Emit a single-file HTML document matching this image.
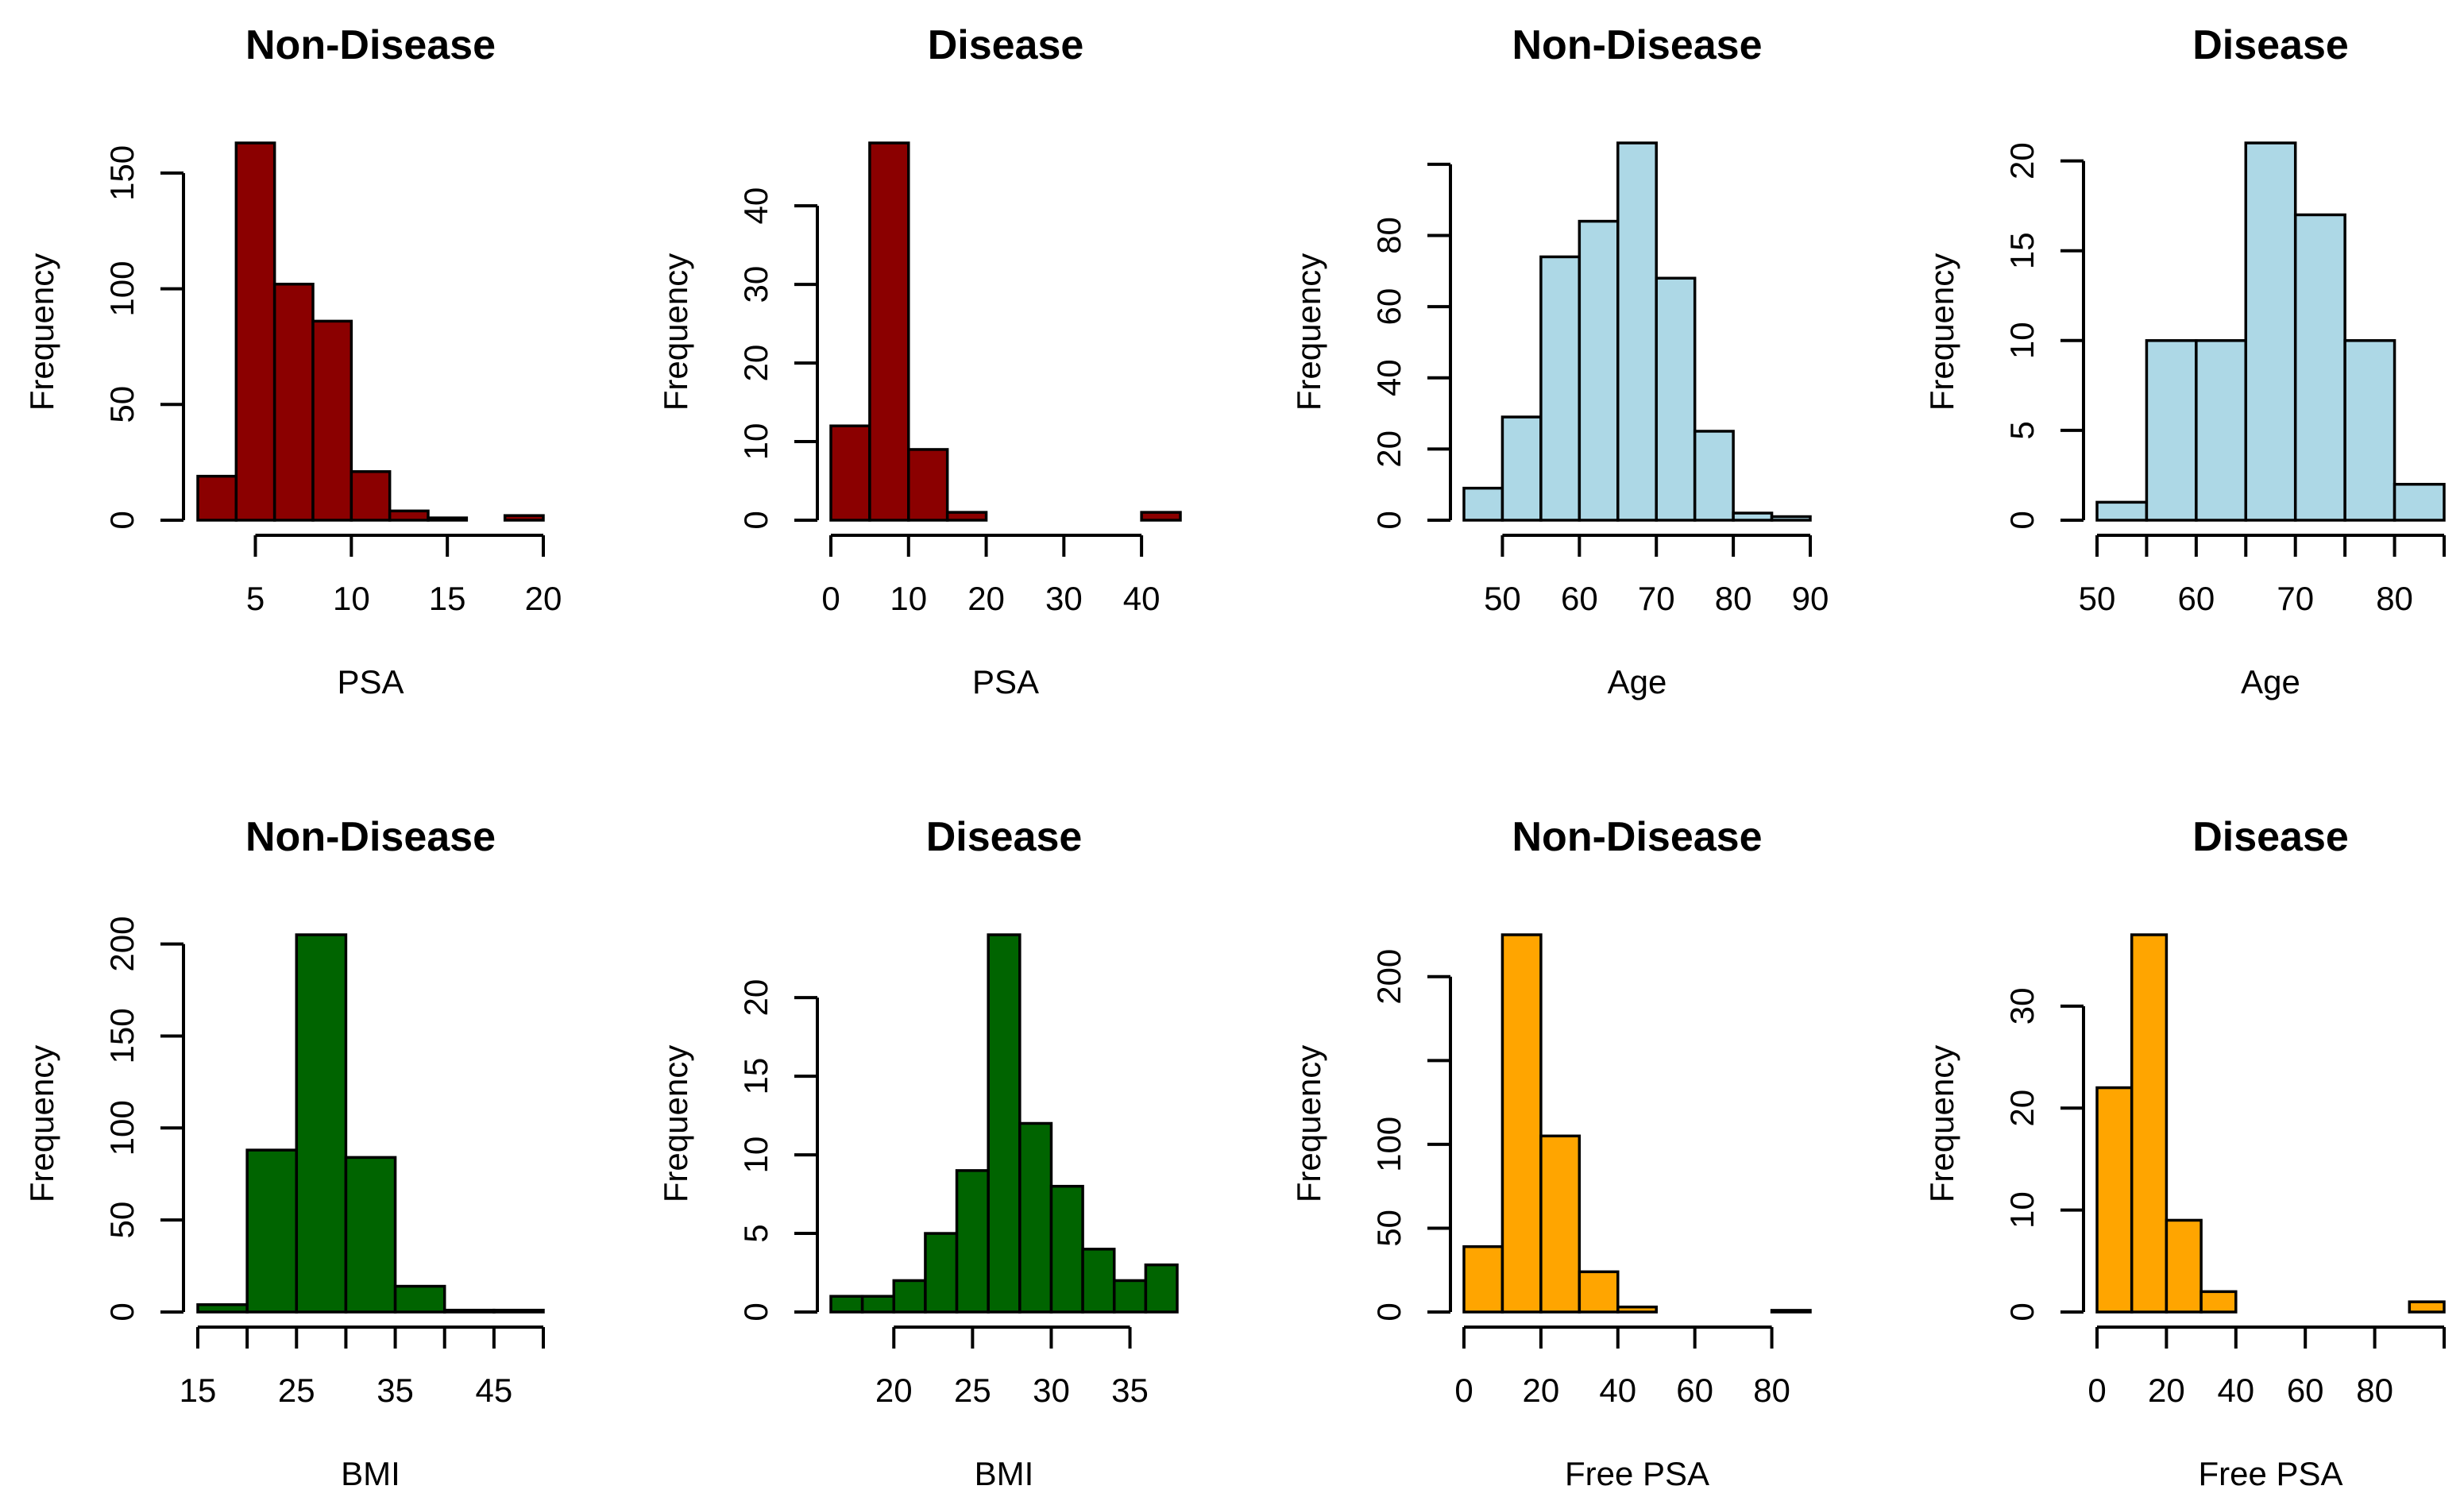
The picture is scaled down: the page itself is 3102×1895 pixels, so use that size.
<!DOCTYPE html>
<html><head><meta charset="utf-8"><style>
html,body{margin:0;padding:0;background:#fff}
svg{display:block}
text{font-family:"Liberation Sans",Arial,sans-serif;fill:#000}
</style></head><body>
<svg id="chart" width="3102" height="1895" viewBox="0 0 3102 1895" xmlns="http://www.w3.org/2000/svg"></svg>
<script>
// ---- data ----
const titles = ["Non-Disease","Disease","Non-Disease","Disease","Non-Disease","Disease","Non-Disease","Disease"];
const xLabels = ["PSA","PSA","Age","Age","BMI","BMI","Free PSA","Free PSA"];
const fills = ["#8B0000","#8B0000","#ADD8E6","#ADD8E6","#006400","#006400","#FFA500","#FFA500"];
const breaks1 = [2,4,6,8,10,12,14,16,18,20];
const counts1 = [19,163,102,86,21,4,1,0,2];
const breaks2 = [0,5,10,15,20,25,30,35,40,45];
const counts2 = [12,48,9,1,0,0,0,0,1];
const breaks3 = [45,50,55,60,65,70,75,80,85,90];
const counts3 = [9,29,74,84,106,68,25,2,1];
const breaks4 = [50,55,60,65,70,75,80,85];
const counts4 = [1,10,10,21,17,10,2];
const breaks5 = [15,20,25,30,35,40,45,50];
const counts5 = [4,88,205,84,14,1,1];
const breaks6 = [16,18,20,22,24,26,28,30,32,34,36,38];
const counts6 = [1,1,2,5,9,24,12,8,4,2,3];
const breaks7 = [0,10,20,30,40,50,60,70,80,90];
const counts7 = [39,225,105,24,3,0,0,0,1];
const breaks8 = [0,10,20,30,40,50,60,70,80,90,100];
const counts8 = [22,37,9,2,0,0,0,0,0,1];
const xTicks = [[5,10,15,20],[0,10,20,30,40],[50,60,70,80,90],[50,55,60,65,70,75,80,85],[15,20,25,30,35,40,45,50],[20,25,30,35],[0,20,40,60,80],[0,20,40,60,80,100]];
const xTickLabels = [["5","10","15","20"],["0","10","20","30","40"],["50","60","70","80","90"],["50","","60","","70","","80",""],["15","","25","","35","","45",""],["20","25","30","35"],["0","20","40","60","80"],["0","20","40","60","80",""]];
const yTicks = [[0,50,100,150],[0,10,20,30,40],[0,20,40,60,80,100],[0,5,10,15,20],[0,50,100,150,200],[0,5,10,15,20],[0,50,100,150,200],[0,10,20,30]];
const yTickLabels = [["0","50","100","150"],["0","10","20","30","40"],["0","20","40","60","80",""],["0","5","10","15","20"],["0","50","100","150","200"],["0","5","10","15","20"],["0","50","100","","200"],["0","10","20","30"]];
const allBreaks = [breaks1,breaks2,breaks3,breaks4,breaks5,breaks6,breaks7,breaks8];
const allCounts = [counts1,counts2,counts3,counts4,counts5,counts6,counts7,counts8];

// ---- layout (pixels) ----
const yAxisX = [231,1029,1826,2623,231,1029,1826,2623];
const barLeftPx = [249,1046,1843,2640,249,1046,1843,2640];
const barRightPx = [684,1486,2279,3077,684,1482,2279,3077];
const NS = "http://www.w3.org/2000/svg";
const svg = document.getElementById("chart");
function mk(tag, attrs, parent){
  const e = document.createElementNS(NS, tag);
  for (const k in attrs) e.setAttribute(k, attrs[k]);
  (parent||svg).appendChild(e);
  return e;
}
for (let p=0;p<8;p++){
  const row = Math.floor(p/4), off = row*997;
  const top = 180+off, base = 655+off;
  const br = allBreaks[p], ct = allCounts[p];
  const maxC = Math.max(...ct);
  const b0 = br[0], b1 = br[br.length-1];
  const sx = v => barLeftPx[p] + (v-b0)/(b1-b0)*(barRightPx[p]-barLeftPx[p]);
  const sy = v => base - v/maxC*(base-top);
  const g = mk("g",{});
  
  
  const pad = barLeftPx[p]-yAxisX[p];
  const cx = (yAxisX[p] + barRightPx[p] + pad)/2;
  const t = mk("text",{x:cx,y:74+off,"text-anchor":"middle","font-size":"52","font-weight":"bold"},g);
  t.textContent = titles[p];
  
  
  // bars
  for (let i=0;i<ct.length;i++){
    const r = mk("rect",{x:sx(br[i]),y:sy(ct[i]),width:sx(br[i+1])-sx(br[i]),height:base-sy(ct[i]),fill:fills[p],stroke:"#000","stroke-width":"3.5"},g);
    
    
  }
  // x axis
  const xt = xTicks[p];
  const xa = mk("line",{x1:sx(xt[0]),x2:sx(xt[xt.length-1]),y1:674+off,y2:674+off,stroke:"#000","stroke-width":"4"},g);
  
  
  for (let i=0;i<xt.length;i++){
    mk("line",{x1:sx(xt[i]),x2:sx(xt[i]),y1:674+off,y2:701+off,stroke:"#000","stroke-width":"4"},g);
    const l = mk("text",{x:sx(xt[i]),y:768+off,"text-anchor":"middle","font-size":"42"},g);
    l.textContent = xTickLabels[p][i];
    
    
  }
  const xl = mk("text",{x:cx,y:873+off,"text-anchor":"middle","font-size":"42"},g);
  xl.textContent = xLabels[p];
  
  
  // y axis
  const yt = yTicks[p], ax = yAxisX[p];
  const ya = mk("line",{x1:ax,x2:ax,y1:sy(yt[0]),y2:sy(yt[yt.length-1]),stroke:"#000","stroke-width":"4"},g);
  
  
  for (let i=0;i<yt.length;i++){
    const y = sy(yt[i]);
    mk("line",{x1:ax-29,x2:ax,y1:y,y2:y,stroke:"#000","stroke-width":"4"},g);
    const l = mk("text",{x:0,y:0,"text-anchor":"middle","font-size":"42",transform:`translate(${ax-63},${y}) rotate(-90)`},g);
    l.textContent = yTickLabels[p][i];
    
    
  }
  const yl = mk("text",{x:0,y:0,"text-anchor":"middle","font-size":"42",transform:`translate(${ax-164},${418+off}) rotate(-90)`},g);
  yl.textContent = "Frequency";
  
  
}
</script>
</body></html>
